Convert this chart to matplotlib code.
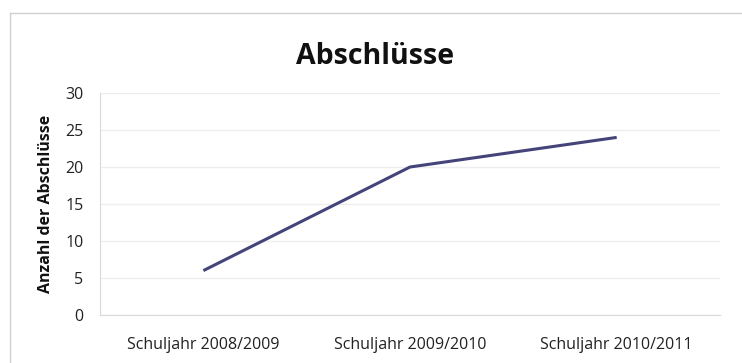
import matplotlib.pyplot as plt
from matplotlib.lines import Line2D

categories = ["Schuljahr 2008/2009", "Schuljahr 2009/2010", "Schuljahr 2010/2011"]
abschluesse = [6, 20, 24]
y_ticks = [0, 5, 10, 15, 20, 25, 30]

plt.rcParams['font.family'] = ['Open Sans', 'DejaVu Sans']

fig = plt.figure(figsize=(7.42, 3.63), dpi=100)
ax = fig.add_axes([0.1348, 0.1322, 0.8356, 0.6116])

x = list(range(len(categories)))
ax.plot(x, abschluesse, color="#44447a", linewidth=2.2, solid_capstyle="butt")

ax.set_xlim(-0.5, len(categories) - 0.5)
ax.set_ylim(0, 30)
ax.set_yticks(y_ticks)
ax.set_xticks(x)
ax.set_xticklabels(categories)
ax.tick_params(length=0, labelsize=11.5, colors="#222222")
ax.tick_params(axis="x", pad=16)
ax.tick_params(axis="y", pad=12)

ax.grid(axis="y", color="#eeeeee", linewidth=1)
ax.set_axisbelow(True)
for side in ["top", "right"]:
    ax.spines[side].set_visible(False)
for side in ["left", "bottom"]:
    ax.spines[side].set_color("#d9d9d9")

ax.set_ylabel("Anzahl der Abschlüsse", fontsize=11.5, fontweight="bold", color="#111111", labelpad=8)
fig.text(0.506, 0.845, "Abschlüsse", ha="center", va="center", fontsize=20.5, fontweight="bold", color="#111111")

# chart frame (top and left edge visible)
fig.add_artist(Line2D([10 / 742, 1], [1 - 13 / 363, 1 - 13 / 363], transform=fig.transFigure, color="#d0d0d0", linewidth=1))
fig.add_artist(Line2D([10 / 742, 10 / 742], [0, 1 - 13 / 363], transform=fig.transFigure, color="#d0d0d0", linewidth=1))

fig.savefig("out.png", dpi=100)
